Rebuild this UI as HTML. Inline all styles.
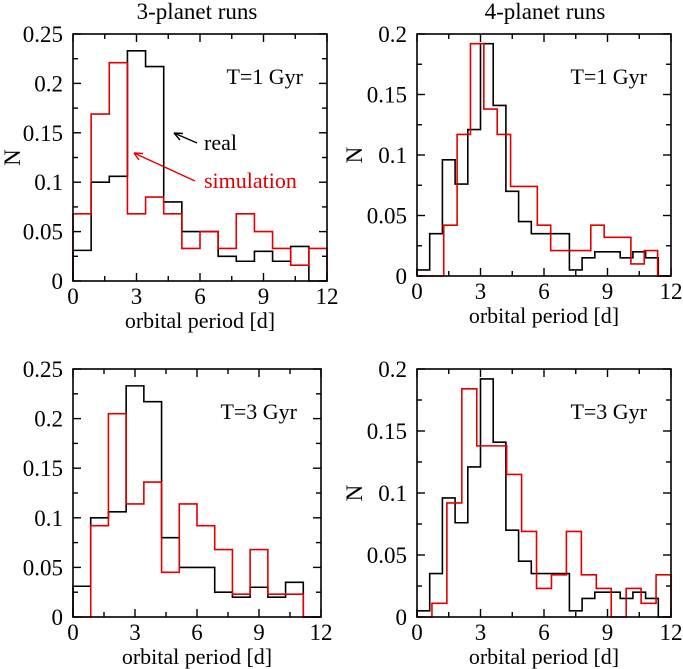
<!DOCTYPE html>
<html><head><meta charset="utf-8"><style>
html,body{margin:0;padding:0;background:#fff;}
svg{display:block;font-family:"Liberation Serif","DejaVu Serif",serif;}
</style></head><body>
<svg id="fig" width="683" height="669" viewBox="0 0 683 669" xmlns="http://www.w3.org/2000/svg">
<text x="197" y="19" font-size="23" text-anchor="middle">3-planet runs</text>
<text x="545" y="19" font-size="23" text-anchor="middle">4-planet runs</text>
</svg>
<script>
// ---- data ----
const xTicks = [0, 3, 6, 9, 12];
const yTicks3 = [0, 0.05, 0.1, 0.15, 0.2, 0.25];
const yTickLabels3 = ["0", "0.05", "0.1", "0.15", "0.2", "0.25"];
const yTicks4 = [0, 0.05, 0.1, 0.15, 0.2];
const yTickLabels4 = ["0", "0.05", "0.1", "0.15", "0.2"];

const bins3 = 14;          // 3-planet: 14 bins over 0..12 d
const bins4Real = 20;      // 4-planet real: 20 bins
const bins4Sim1 = 19;      // 4-planet sim T=1
const bins4Sim3 = 17;      // 4-planet sim T=3

const real3 = [0.031,0.100,0.106,0.233,0.217,0.080,0.050,0.050,0.025,0.020,0.030,0.020,0.035,0];
const sim3T1 = [0.068,0.169,0.221,0.068,0.085,0.068,0.033,0.050,0.033,0.068,0.050,0.033,0.016,0.033];
const sim3T3 = [0,0.092,0.205,0.114,0.136,0.045,0.114,0.092,0.068,0.023,0.068,0.023,0.023,0];
const real4 = [0.005,0.035,0.096,0.076,0.121,0.192,0.141,0.070,0.045,0.035,0.035,0.035,0.005,0.015,0.020,0.020,0.015,0.020,0.015,0];
const sim4T1 = [0,0,0.042,0.117,0.192,0.138,0.117,0.074,0.074,0.042,0.021,0.021,0.021,0.042,0.032,0.032,0.010,0.021,0];
const sim4T3 = [0,0.011,0.092,0.184,0.138,0.138,0.115,0.069,0.023,0.034,0.069,0.034,0.023,0,0.023,0.011,0.034];

const svg = document.getElementById('fig');
const NS = 'http://www.w3.org/2000/svg';
function el(tag, attrs, parent){const e=document.createElementNS(NS,tag);for(const k in attrs)e.setAttribute(k,attrs[k]);(parent||svg).appendChild(e);return e;}

function panel(p){
  const g = el('g',{});
  
  
  const X = v => p.x0 + (v/12)*(p.x1-p.x0);
  const Y = v => p.y1 - (v/p.ymax)*(p.y1-p.y0);
  p.series.forEach(s=>{
    const w = 12/s.n; let d = 'M'+X(0)+','+Y(0);
    s.vals.forEach((v,i)=>{ d += ' L'+X(i*w)+','+Y(v)+' L'+X((i+1)*w)+','+Y(v); });
    d += ' L'+X(s.n*w)+','+Y(0);
    const path = el('path',{d:d,fill:'none',stroke:s.color,'stroke-width':1.6,'stroke-linejoin':'miter'},g);
    
    
  });
  const fr = el('rect',{x:p.x0,y:p.y0,width:p.x1-p.x0,height:p.y1-p.y0,fill:'none',stroke:'#000','stroke-width':1.6},g);
  
  
  for(let v=0; v<=12.001; v+=1.5){
    const major = Math.abs(v%3)<1e-6; const L = major?8:5;
    el('line',{x1:X(v),x2:X(v),y1:p.y1,y2:p.y1-L,stroke:'#000','stroke-width':1.4},g);
    el('line',{x1:X(v),x2:X(v),y1:p.y0,y2:p.y0+L,stroke:'#000','stroke-width':1.4},g);
  }
  xTicks.forEach(v=>{
    const t = el('text',{x:X(v),y:p.y1+23,'font-size':23,'text-anchor':'middle'},g);
    t.textContent = v;
    
    
  });
  for(let v=0; v<=p.ymax+1e-9; v+=0.025){
    const major = Math.abs((v/0.05)-Math.round(v/0.05))<1e-6; const L = major?8:5;
    el('line',{x1:p.x0,x2:p.x0+L,y1:Y(v),y2:Y(v),stroke:'#000','stroke-width':1.4},g);
    el('line',{x1:p.x1,x2:p.x1-L,y1:Y(v),y2:Y(v),stroke:'#000','stroke-width':1.4},g);
  }
  p.yt.forEach((v,i)=>{
    const t = el('text',{x:p.x0-10,y:Y(v)+8,'font-size':23,'text-anchor':'end'},g);
    t.textContent = p.ytl[i];
    
    
  });
  const xt = el('text',{x:(p.x0+p.x1)/2,y:p.y1+47,'font-size':22,'text-anchor':'middle'},g);
  xt.textContent = 'orbital period  [d]';
  xt.setAttribute('xml:space','preserve');
  
  
  if(p.ylab){
    const cy=(p.y0+p.y1)/2, cx=p.ylabX;
    const yt = el('text',{x:cx,y:cy,'font-size':23,'text-anchor':'middle',transform:'rotate(-90 '+cx+' '+cy+')'},g);
    yt.textContent='N';
    
    
  }
  const tl = el('text',{x:p.x1-24,y:p.y0+50,'font-size':22,'text-anchor':'end'},g);
  tl.textContent = p.tlabel;
  
  
  return g;
}

panel({name:'panel-3planet-1gyr',x0:73,x1:327,y0:34,y1:281,ymax:0.25,yt:yTicks3,ytl:yTickLabels3,ylab:true,ylabX:20,tlabel:'T=1 Gyr',
  series:[{n:bins3,vals:real3,color:'#000',label:'real-histogram'},{n:bins3,vals:sim3T1,color:'#e00000',label:'simulation-histogram'}]});
panel({name:'panel-4planet-1gyr',x0:417,x1:671,y0:34,y1:276,ymax:0.2,yt:yTicks4,ytl:yTickLabels4,ylab:true,ylabX:362,tlabel:'T=1 Gyr',
  series:[{n:bins4Real,vals:real4,color:'#000',label:'real-histogram'},{n:bins4Sim1,vals:sim4T1,color:'#e00000',label:'simulation-histogram'}]});
panel({name:'panel-3planet-3gyr',x0:73,x1:321,y0:369,y1:617,ymax:0.25,yt:yTicks3,ytl:yTickLabels3,ylab:false,tlabel:'T=3 Gyr',
  series:[{n:bins3,vals:real3,color:'#000',label:'real-histogram'},{n:bins3,vals:sim3T3,color:'#e00000',label:'simulation-histogram'}]});
panel({name:'panel-4planet-3gyr',x0:417,x1:671,y0:369,y1:617,ymax:0.2,yt:yTicks4,ytl:yTickLabels4,ylab:true,ylabX:362,tlabel:'T=3 Gyr',
  series:[{n:bins4Real,vals:real4,color:'#000',label:'real-histogram'},{n:bins4Sim3,vals:sim4T3,color:'#e00000',label:'simulation-histogram'}]});

const ann = el('g',{});


el('line',{x1:197,y1:143,x2:174,y2:133,stroke:'#000','stroke-width':1.4},ann);
el('path',{d:'M174,133 L183,133.5 M174,133 L180,140',stroke:'#000','stroke-width':1.4,fill:'none'},ann);
const rl = el('text',{x:204,y:150,'font-size':22},ann);
rl.textContent='real';


el('line',{x1:195,y1:181,x2:134,y2:153,stroke:'#e00000','stroke-width':1.4},ann);
el('path',{d:'M134,153 L143,153.5 M134,153 L139,160',stroke:'#e00000','stroke-width':1.4,fill:'none'},ann);
const sl = el('text',{x:204,y:188,'font-size':22,fill:'#e00000'},ann);
sl.textContent='simulation';


</script>
</body></html>
